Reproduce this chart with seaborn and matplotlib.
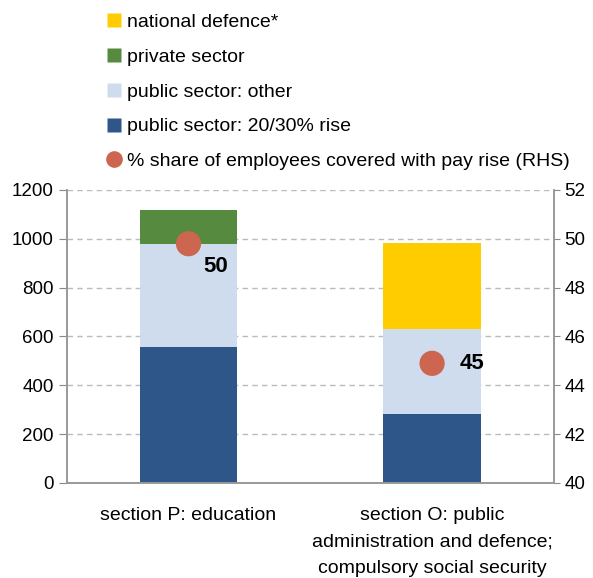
import numpy as np
import pandas as pd
import matplotlib
matplotlib.use("Agg")
import matplotlib.pyplot as plt
from matplotlib.lines import Line2D
import seaborn as sns

categories = ["section P: education",
              "section O: public\nadministration and defence;\ncompulsory social security"]
public_rise = [558, 283]
public_other = [421, 346]
private_sector = [140, 0]
national_defence = [0, 354]
share_covered = [49.8, 44.9]
share_labels = ["50", "45"]

series_names = ["public sector: 20/30% rise", "public sector: other",
                "private sector", "national defence*"]
series_values = [public_rise, public_other, private_sector, national_defence]
colors = ["#2F5689", "#CFDCEE", "#568A3E", "#FFCC00"]
dot_color = "#CD6650"

sns.set_style("white")
plt.rcParams['font.family'] = ['Liberation Sans', 'DejaVu Sans']
plt.rcParams['text.color'] = 'black'
plt.rcParams['xtick.color'] = 'black'
plt.rcParams['ytick.color'] = 'black'

fig = plt.figure(figsize=(5.93, 5.78), dpi=100)
ax = fig.add_axes([0.1125, 0.1644, 0.8215, 0.5069])

cum = np.cumsum(np.array(series_values), axis=0)
# draw from the top of the stack down so each layer overlays the next
for i in range(len(series_names) - 1, -1, -1):
    df = pd.DataFrame({"cat": categories, "val": cum[i]})
    sns.barplot(data=df, x="cat", y="val", color=colors[i], width=0.4,
                saturation=1, ax=ax, zorder=2, linewidth=0, edgecolor="none")

ax.set_xlim(-0.5, 1.5)
ax.set_ylim(0, 1200)
ax.set_yticks(range(0, 1201, 200))
ax.set_xlabel("")
ax.set_ylabel("")
ax.yaxis.grid(True, linestyle=(0, (4, 3)), color="#BBBBBB", linewidth=1)
ax.set_axisbelow(True)
ax.tick_params(axis="x", which="major", length=0, labelsize=14, pad=17)
ax.set_xticks([-0.5, 0.5, 1.5], minor=True)
ax.tick_params(axis="x", which="minor", length=6, direction="out", color="#888888", width=1)
ax.tick_params(axis="y", length=6, direction="out", color="#888888", labelcolor="black",
               labelsize=13.5, left=True)
for lbl in ax.get_xticklabels():
    lbl.set_linespacing(1.75)
    lbl.set_color("black")

for s in ["left", "right", "bottom"]:
    ax.spines[s].set_color("#999999")
    ax.spines[s].set_linewidth(1.2)
ax.spines["top"].set_visible(False)

ax2 = ax.twinx()
dfd = pd.DataFrame({"x": [0, 1], "share": share_covered})
sns.scatterplot(data=dfd, x="x", y="share", color=dot_color, s=330,
                edgecolor="none", ax=ax2, zorder=5, legend=False)
ax2.set_ylim(40, 52)
ax2.set_yticks(range(40, 53, 2))
ax2.set_ylabel("")
ax2.tick_params(axis="y", length=4, direction="out", color="#888888", labelcolor="black",
                labelsize=13.5, right=True)
for s in ["left", "right", "bottom"]:
    ax2.spines[s].set_color("#999999")
    ax2.spines[s].set_linewidth(1.2)
ax2.spines["top"].set_visible(False)
ax2.grid(False)

offsets = [(19.5, -16.5), (29, 0)]
for i, (v, lab) in enumerate(zip(share_covered, share_labels)):
    ax2.annotate(lab, (i, v), xytext=offsets[i], textcoords="offset points",
                 ha="center", va="center", fontsize=16, fontweight="bold",
                 color="black")

def sq(c):
    return Line2D([], [], marker="s", linestyle="none", markersize=9.5,
                  markerfacecolor=c, markeredgecolor="none")

handles = [sq(colors[3]), sq(colors[2]), sq(colors[1]), sq(colors[0]),
           Line2D([], [], marker="o", linestyle="none", markersize=12,
                  markerfacecolor=dot_color, markeredgecolor="none")]
labels = [series_names[3], series_names[2], series_names[1], series_names[0],
          "% share of employees covered with pay rise (RHS)"]
fig.legend(handles, labels, loc="upper left", bbox_to_anchor=(0.168, 0.99),
           frameon=False, fontsize=14, handlelength=0.7, handletextpad=0.3,
           labelspacing=0.88, borderaxespad=0, labelcolor="black")

fig.savefig("out.png", dpi=100)
